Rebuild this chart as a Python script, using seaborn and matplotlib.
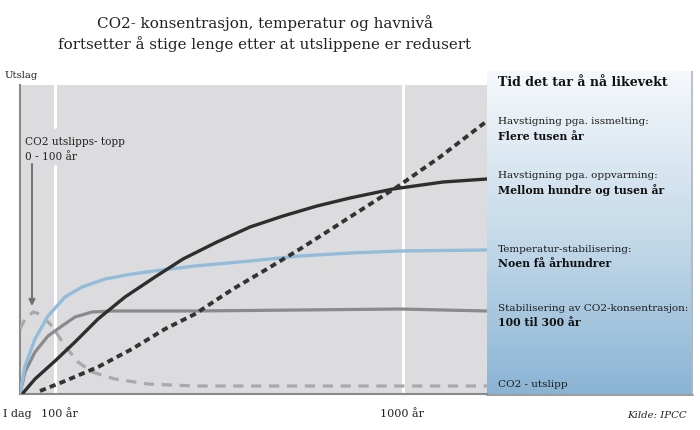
import numpy as np
import pandas as pd
import matplotlib
matplotlib.use("Agg")
import matplotlib.pyplot as plt
import seaborn as sns
from matplotlib.colors import LinearSegmentedColormap

# ---------------- data ----------------
title_lines = ["CO2- konsentrasjon, temperatur og havnivå",
               "fortsetter å stige lenge etter at utslippene er redusert"]
x_tick_pos = [0, 35, 383]
x_tick_labels = ["I dag", "100 år", "1000 år"]

# sea level rise from ice melting (dotted black)
ice_x = [20, 45, 78, 112, 145, 175, 213, 247, 280, 313, 330, 377, 420, 467]
ice_y = [3, 13, 27, 45, 65, 80, 105, 125, 145, 166, 177, 207, 237, 273]
# sea level rise from thermal expansion (solid black)
warm_x = [3, 15, 35, 55, 78, 105, 135, 163, 197, 230, 263, 297, 330, 373, 423, 467]
warm_y = [1, 15, 33, 52, 75, 97, 117, 135, 152, 167, 178, 188, 196, 205, 212, 215]
# temperature (light blue)
temp_x = [0, 5, 15, 28, 45, 62, 85, 112, 142, 175, 230, 280, 330, 380, 467]
temp_y = [0, 28, 55, 78, 97, 107, 115, 120, 124, 128, 133, 138, 141, 143, 144]
# CO2 concentration (grey solid)
conc_x = [0, 5, 15, 28, 42, 55, 72, 92, 175, 280, 380, 467]
conc_y = [0, 22, 42, 58, 68, 77, 82, 83, 83, 84, 85, 83]
# CO2 emissions (grey dashed)
emis_x = [0, 5, 13, 20, 32, 45, 58, 72, 95, 128, 175, 467]
emis_y = [65, 75, 82, 80, 68, 48, 32, 22, 15, 10, 8, 8]

panel_title = "Tid det tar å nå likevekt"
panel_labels = [
    ("Havstigning pga. issmelting:", "Flere tusen år"),
    ("Havstigning pga. oppvarming:", "Mellom hundre og tusen år"),
    ("Temperatur-stabilisering:", "Noen få århundrer"),
    ("Stabilisering av CO2-konsentrasjon:", "100 til 300 år"),
]
emis_label = "CO2 - utslipp"
annot_lines = ["CO2 utslipps- topp", "0 - 100 år"]

# ---------------- style ----------------
sns.set_style("white")
plt.rcParams['font.family'] = ['DejaVu Serif', 'Liberation Serif']

W, H = 700, 431
fig = plt.figure(figsize=(W / 100, H / 100), dpi=100)
fx = lambda px: px / W
fy = lambda py: 1 - py / H

# right-hand gradient panel
pax = fig.add_axes([fx(487), fy(395), fx(693) - fx(487), fy(72) - fy(395)])
cmap = LinearSegmentedColormap.from_list("g", ["#f6f8fb", "#c6dbea", "#8ab4d4"])
grad = np.linspace(0, 1, 256).reshape(-1, 1)
pax.imshow(grad, aspect="auto", cmap=cmap, extent=[0, 1, 0, 1], origin="upper")
pax.set_xlim(0, 1); pax.set_ylim(0, 1)
pax.axis("off")
pax.plot([0.995, 0.995], [0, 1], color="#b0b8c0", lw=1.2)

# main plot
ax = fig.add_axes([fx(20), fy(395), fx(487) - fx(20), fy(86) - fy(395)])
ax.set_facecolor("#dcdcde")
ax.set_xlim(0, 467)
ax.set_ylim(0, 309)

ax.axvline(35, ymin=0, ymax=0.738, color="white", lw=2.2, zorder=1)
ax.axvline(35, ymin=0.864, ymax=1, color="white", lw=2.2, zorder=1)
ax.axvline(383, color="white", lw=2.2, zorder=1)

def draw(xs, ys, **kw):
    df = pd.DataFrame({"x": xs, "y": ys})
    sns.lineplot(data=df, x="x", y="y", ax=ax, estimator=None, sort=False, **kw)

draw(emis_x, emis_y, color="#a9a9ab", linewidth=2.3, linestyle=(0, (3.2, 2.4)),
     dash_capstyle="butt", zorder=3)
draw(conc_x, conc_y, color="#8a8a8c", linewidth=2.3, zorder=3)
draw(temp_x, temp_y, color="#93bcdb", linewidth=2.4, zorder=3)
draw(warm_x, warm_y, color="#2e2e2e", linewidth=2.4, zorder=4)
draw(ice_x, ice_y, color="#333333", linewidth=2.8, linestyle=(0, (1.6, 1.1)),
     dash_capstyle="butt", zorder=4)

for s in ("top", "right"):
    ax.spines[s].set_visible(False)
for s in ("left", "bottom"):
    ax.spines[s].set_color("#8a8a8a")
    ax.spines[s].set_linewidth(1.5)
ax.set_yticks([])
ax.set_xticks(x_tick_pos)
ax.set_xticklabels([""] * len(x_tick_pos))
ax.tick_params(axis="x", direction="out", length=5, width=1.2, color="#8a8a8a", pad=4)
ax.set_xlabel(""); ax.set_ylabel("")

# tick label texts, placed under their ticks
label_px = [17.5, 59.5, 402.5]
for lab, px in zip(x_tick_labels, label_px):
    fig.text(fx(px), fy(414), lab, ha="center", va="center", fontsize=8.0, color="#222222")

# bottom line continuing under the panel
fig.add_artist(plt.Line2D([fx(487), fx(693)], [fy(395.5), fy(395.5)],
                          color="#8a8a8a", lw=1.2))

# arrow to the emissions peak
ax.annotate("", xy=(12, 88), xytext=(12, 230),
            arrowprops=dict(arrowstyle="-|>", color="#707070", lw=1.4,
                            mutation_scale=9, shrinkA=0, shrinkB=0))

# ---------------- text ----------------
fig.text(fx(265), fy(23), title_lines[0], ha="center", va="center", fontsize=10.9, color="#222222")
fig.text(fx(265), fy(44), title_lines[1], ha="center", va="center", fontsize=10.9, color="#222222")
fig.text(fx(5), fy(75), "Utslag", ha="left", va="center", fontsize=7.3, color="#222222")
fig.text(fx(25), fy(142), annot_lines[0], ha="left", va="center", fontsize=7.6, color="#222222")
fig.text(fx(25), fy(157), annot_lines[1], ha="left", va="center", fontsize=7.6, color="#222222")

fig.text(fx(498), fy(83), panel_title, ha="left", va="center", fontsize=9.1,
         fontweight="bold", color="#111111")
rows = [(122, 137), (175, 190), (249, 264), (309, 323)]
for (l1, l2), (y1, y2) in zip(panel_labels, rows):
    fig.text(fx(498), fy(y1), l1, ha="left", va="center", fontsize=7.5, color="#1a1a1a")
    fig.text(fx(498), fy(y2), l2, ha="left", va="center", fontsize=7.8,
             fontweight="bold", color="#111111")
fig.text(fx(498), fy(385), emis_label, ha="left", va="center", fontsize=7.5, color="#1a1a1a")
fig.text(fx(687), fy(416), "Kilde: IPCC", ha="right", va="center", fontsize=7.3,
         style="italic", color="#222222")

fig.savefig("out.png", dpi=100)
